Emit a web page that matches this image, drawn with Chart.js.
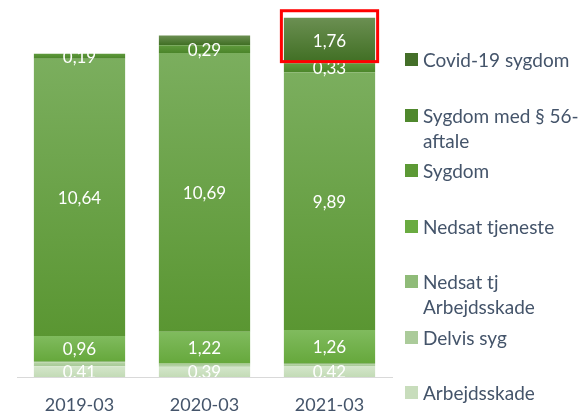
<!DOCTYPE html>
<html>
<head>
<meta charset="utf-8">
<script src="https://cdn.jsdelivr.net/npm/chart.js@4"></script>
<style>
  html, body { margin: 0; padding: 0; background: #fff; }
  #wrap { position: relative; width: 584px; height: 414px; overflow: hidden; }
  #chart { position: absolute; left: 0; top: 0; }
  #legend { position: absolute; left: 0; top: 0; width: 584px; height: 414px; pointer-events: none;
    font-family: Lato, "Open Sans", sans-serif; font-size: 19px; color: #44546a; }
  .item { position: absolute; left: 423px; width: 161px; line-height: 25px; white-space: normal; }
  .sw { position: absolute; left: -18px; top: 6px; width: 13px; height: 13px; }
</style>
</head>
<body>
<div id="wrap">
  <canvas id="chart" width="584" height="414"></canvas>
  <div id="legend"></div>
</div>
<script>
// ===========================
// Data
// ===========================
const periods = ["2019-03", "2020-03", "2021-03"];

const seriesNames = ["Arbejdsskade", "Delvis syg", "Nedsat tj Arbejdsskade", "Nedsat tjeneste",
  "Sygdom", "Sygdom med § 56-aftale", "Covid-19 sygdom"];

const arbejdsskade   = [0.41, 0.39, 0.42];
const delvisSyg      = [0.16, 0.08, 0.08];
const nedsatTjArb    = [0.04, 0.05, 0.04];
const nedsatTjeneste = [0.96, 1.22, 1.26];
const sygdom         = [10.64, 10.69, 9.89];
const sygdom56       = [0.19, 0.29, 0.33];
const covid          = [0, 0.38, 1.76];

const seriesValues = [arbejdsskade, delvisSyg, nedsatTjArb, nedsatTjeneste, sygdom, sygdom56, covid];

// which series get a value label, and single points without one
const labelledSeries = [0, 3, 4, 5, 6];
const unlabelledPoints = [[6, 0], [6, 1]];

// ===========================
// Colours (top, bottom of each segment gradient)
// ===========================
const colTop    = ["#d4e6cb", "#b8d4a8", "#97c07f", "#80bb5e", "#7bae5e", "#5f9a3c", "#6b8f52"];
const colBottom = ["#c3dbb6", "#a6c995", "#88b470", "#66a83c", "#5a9632", "#4b852a", "#3f6e22"];
const colLegend = ["#c8ddbc", "#abcb9a", "#8fbb78", "#6aab41", "#5c9935", "#4f882d", "#446f29"];

function fillFor(i) {
  return (ctx) => {
    const chart = ctx.chart;
    if (!chart.chartArea || ctx.type !== "data") return colBottom[i];
    const idx = ctx.dataIndex;
    let lo = 0;
    for (let k = 0; k < i; k++) lo += seriesValues[k][idx];
    const hi = lo + seriesValues[i][idx];
    const y = chart.scales.y;
    const top = y.getPixelForValue(hi), bot = y.getPixelForValue(lo);
    if (!(bot - top > 0.5)) return colBottom[i];
    const g = chart.ctx.createLinearGradient(0, top, 0, bot);
    g.addColorStop(0, colTop[i]);
    g.addColorStop(1, colBottom[i]);
    return g;
  };
}

const fmt = v => v.toFixed(2).replace(".", ",");

// ===========================
// Plugins: value labels and highlight box
// ===========================
const valueLabels = {
  id: "valueLabels",
  afterDatasetsDraw(chart) {
    const c = chart.ctx, a = chart.chartArea;
    c.save();
    c.beginPath();
    c.rect(a.left, a.top - 20, a.right - a.left, a.bottom - a.top + 20);
    c.clip();
    c.fillStyle = "#ffffff";
    c.font = "17px Lato, 'Open Sans', sans-serif";
    c.textAlign = "center";
    c.textBaseline = "middle";
    labelledSeries.forEach(i => {
      const meta = chart.getDatasetMeta(i);
      meta.data.forEach((el, j) => {
        if (unlabelledPoints.some(p => p[0] === i && p[1] === j)) return;
        c.fillText(fmt(seriesValues[i][j]), el.x, (el.y + el.base) / 2 + 1);
      });
    });
    c.restore();
  }
};

const highlightBox = {
  id: "highlightBox",
  afterDraw(chart) {
    const el = chart.getDatasetMeta(6).data[2];
    const c = chart.ctx;
    const w = el.width;
    c.save();
    c.strokeStyle = "#ff0000";
    c.lineWidth = 3;
    c.strokeRect(el.x - w / 2 - 2.5, el.y - 7, w + 5, el.base - el.y + 5);
    c.restore();
  }
};

// ===========================
// Chart
// ===========================
new Chart(document.getElementById("chart"), {
  type: "bar",
  data: {
    labels: periods,
    datasets: seriesNames.map((name, i) => ({
      label: name,
      data: seriesValues[i],
      backgroundColor: fillFor(i),
      borderWidth: 0,
      categoryPercentage: 1,
      barPercentage: 0.73
    }))
  },
  options: {
    responsive: false,
    animation: false,
    layout: { padding: { left: 17, right: 192, top: 12, bottom: 0 } },
    plugins: { legend: { display: false }, tooltip: { enabled: false } },
    scales: {
      x: {
        stacked: true,
        grid: { display: false, drawTicks: false },
        border: { display: true, color: "#d9d9d9", width: 1 },
        ticks: { color: "#44546a", font: { family: "Lato, 'Open Sans', sans-serif", size: 18, lineHeight: 1 }, padding: 19 },
        afterFit(scale) { scale.height = 37; }
      },
      y: { stacked: true, display: false, min: 0, max: 14 }
    }
  },
  plugins: [valueLabels, highlightBox]
});

// ===========================
// Legend (HTML, top item = top series)
// ===========================
const legend = document.getElementById("legend");
for (let n = 0; n < seriesNames.length; n++) {
  const i = seriesNames.length - 1 - n;
  const d = document.createElement("div");
  d.className = "item";
  d.style.top = (47 + n * 55.5) + "px";
  d.innerHTML = `<span class="sw" style="background:${colLegend[i]}"></span>${seriesNames[i]}`;
  legend.appendChild(d);
}
</script>
</body>
</html>
